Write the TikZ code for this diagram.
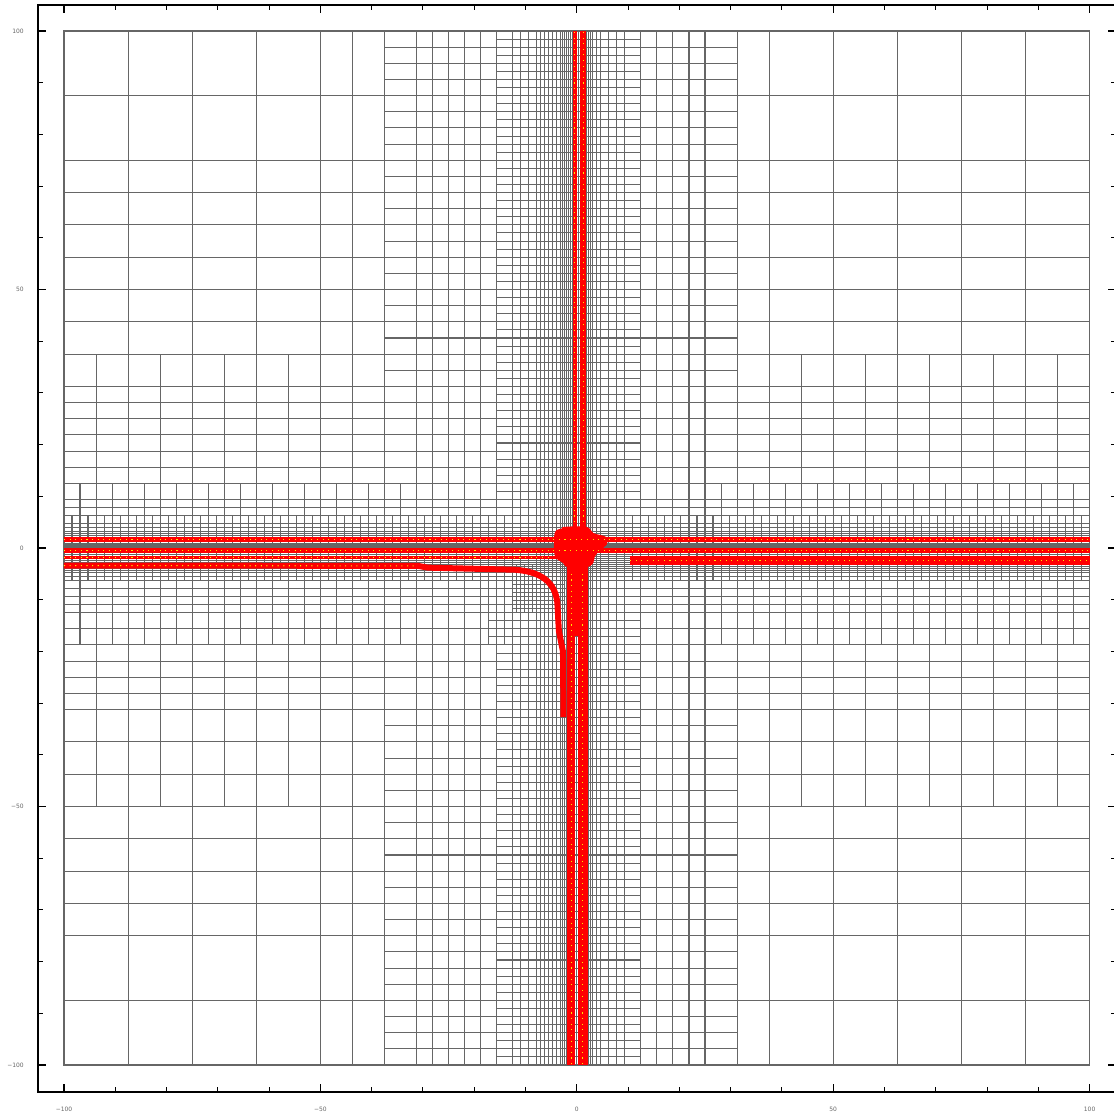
\documentclass[tikz,border=0pt]{standalone}
\usepackage{fontspec}
\setmainfont{DejaVu Sans}

\newdimen\meshdxc \newdimen\meshdxi \newdimen\meshdyc \newdimen\meshdyi
\newdimen\meshbx \newdimen\meshby
\newdimen\meshtx \newdimen\meshty \newdimen\meshtmp

% distance of [#1,#1+#2] to [#3,#4], into register #5
\newcommand\meshdist[5]{%
  #5=\dimexpr#3-#1-#2\relax
  \meshtmp=\dimexpr#1-#4\relax
  \ifdim\meshtmp>#5 #5=\meshtmp\fi
  \ifdim#5<0pt #5=0pt\relax\fi}

% one cell of the adaptive mesh: #1,#2 lower left corner, #3,#4 size (data units as pt)
\newcommand\meshcell[4]{%
  \begingroup
  \meshdist{#1}{#3}{-7pt}{4.5pt}\meshdxc
  \meshdist{#1}{#3}{-2.5pt}{3pt}\meshdxi
  \meshdist{#2}{#4}{-6pt}{4.4pt}\meshdyc
  \meshdist{#2}{#4}{-4.2pt}{2.6pt}\meshdyi
  \meshdist{#1}{#3}{-12pt}{-3pt}\meshbx
  \meshdist{#2}{#4}{-12pt}{-4pt}\meshby
  \ifdim\meshby>\meshbx \meshbx=\meshby\fi
  % wanted width, vertical band
  \ifdim\meshdxi=0pt \meshtx=0.4pt\relax
  \else\ifdim\meshdxc=0pt \meshtx=0.8pt\relax
  \else\ifdim\meshdxc<4pt \meshtx=1.6pt\relax
  \else\ifdim\meshdxc<18.5pt \meshtx=3.2pt\relax
  \else\ifdim\meshdxc<31pt \meshtx=6.3pt\relax
  \else \meshtx=12.5pt\relax\fi\fi\fi\fi\fi
  % wanted width, horizontal band
  \ifdim\meshdyc=0pt \meshtmp=1.6pt\relax
  \else\ifdim\meshdyc<8pt \meshtmp=3.2pt\relax
  \else\ifdim\meshdyc<33pt \meshtmp=6.3pt\relax
  \else \meshtmp=12.5pt\relax\fi\fi\fi
  \ifdim\meshtmp<\meshtx \meshtx=\meshtmp\fi
  % wanted height, vertical band
  \ifdim\meshdxc<6.3pt \meshty=1.6pt\relax
  \else\ifdim\meshdxc<25pt \meshty=3.2pt\relax
  \else \meshty=12.5pt\relax\fi\fi
  % wanted height, horizontal band
  \ifdim\meshdyi=0pt \meshtmp=0.4pt\relax
  \else\ifdim\meshdyc=0pt \meshtmp=0.8pt\relax
  \else\ifdim\meshdyc<4.5pt \meshtmp=1.6pt\relax
  \else\ifdim\meshdyc<25pt \meshtmp=3.2pt\relax
  \else\ifdim\meshdyc<68pt \meshtmp=6.3pt\relax
  \else \meshtmp=12.5pt\relax\fi\fi\fi\fi\fi
  \ifdim\meshtmp<\meshty \meshty=\meshtmp\fi
  % the bend
  \ifdim\meshbx=0pt \meshtmp=0.8pt\relax
  \else\ifdim\meshbx<5pt \meshtmp=1.6pt\relax
  \else\ifdim\meshbx<15pt \meshtmp=3.2pt\relax
  \else \meshtmp=12.5pt\relax\fi\fi\fi
  \ifdim\meshtmp<\meshtx \meshtx=\meshtmp\fi
  \ifdim\meshtmp<\meshty \meshty=\meshtmp\fi
  % split the longer side first
  \edef\meshhw{\the\dimexpr#3/2\relax}\edef\meshhh{\the\dimexpr#4/2\relax}%
  \edef\meshxm{\the\dimexpr#1+#3/2\relax}\edef\meshym{\the\dimexpr#2+#4/2\relax}%
  \edef\meshsplitx{\noexpand\meshcell{#1}{#2}{\meshhw}{#4}\noexpand\meshcell{\meshxm}{#2}{\meshhw}{#4}}%
  \edef\meshsplity{\noexpand\meshcell{#1}{#2}{#3}{\meshhh}\noexpand\meshcell{#1}{\meshym}{#3}{\meshhh}}%
  \ifdim#3>\meshtx
    \ifdim#4>\meshty
      \ifdim#4>#3 \let\meshnext\meshsplity \else \let\meshnext\meshsplitx \fi
    \else
      \let\meshnext\meshsplitx
    \fi
  \else
    \ifdim#4>\meshty
      \let\meshnext\meshsplity
    \else
      \edef\meshxe{\the\dimexpr#1+#3\relax}\edef\meshye{\the\dimexpr#2+#4\relax}%
      \def\meshnext{\pgfpathrectanglecorners{\pgfqpoint{#1}{#2}}{\pgfqpoint{\meshxe}{\meshye}}\pgfusepath{stroke}}%
    \fi
  \fi
  \meshnext
  \endgroup}

\tikzset{
  meshline/.style={line width=0.3pt, color=black!60},
  frameline/.style={line width=0.55pt, black},
  tickline/.style={line width=0.3pt, black},
  speck/.style={yellow!90!orange, line width=0.3pt, dash pattern=on 0.3pt off 1.3pt},
  ticklabel/.style={font=\fontsize{1.7}{2}\selectfont, text=black!60, inner sep=0pt},
}

\begin{document}
\begin{tikzpicture}
\useasboundingbox (0,0) rectangle (11.14,-11.16);
\fill[white] (0,0) rectangle (11.14,-11.16);

\begin{scope}[shift={(5.768cm,-5.48cm)}, x=1pt, y=1pt, xscale=1.4591, yscale=1.4710]
  % mesh
  \begin{scope}[meshline]
    \meshcell{-100pt}{-100pt}{200pt}{200pt}
  \end{scope}

  % horizontal red bands
  \fill[red] (-100,1.2) rectangle (0,2.1);
  \fill[red] (-100,-0.95) rectangle (0,-0.05);
  \fill[red] (-100,-2.2) rectangle (0,-1.55);
  \fill[red] (0,1.15) rectangle (100,2.1);
  \fill[red] (0,-1.0) rectangle (100,-0.05);
  \fill[red] (10.4,-3.3) rectangle (100,-1.6);
  % vertical red bands
  \fill[red] (-0.8,0) rectangle (0,100);
  \fill[red] (0.7,0) rectangle (1.8,100);
  \fill[red] (-1.9,0) rectangle (-0.35,-100);
  \fill[red] (0.3,0) rectangle (2.2,-100);
  \fill[red] (-1.9,0) rectangle (2.2,-17);
  % centre
  \fill[red] plot[smooth cycle, tension=0.6] coordinates {(-2.3,4.1) (1.9,4.1) (3.2,2.9) (5.8,2.1) (5.8,0.6) (4.5,-0.4) (3.5,-1.7) (3.2,-2.9) (1.9,-3.7) (-1.7,-3.7) (-2.7,-2.9) (-4.3,-1.4) (-4.3,2.9) (-2.9,3.8)};
  % bent band
  \draw[red, line width=1.7pt, line join=round] (-100,-3.4) -- (-31,-3.45) -- (-29,-3.8) -- (-12,-4.2)
    .. controls (-7,-4.6) and (-4.3,-6.5) .. (-3.8,-10.5) -- (-3.5,-16) -- (-2.7,-20) -- (-2.6,-32.7);

  % speckles
  \draw[speck] (-100,1.65) -- (100,1.65);
  \draw[speck] (-100,-0.5) -- (100,-0.5);
  \draw[speck] (-100,-1.9) -- (-5,-1.9);
  \draw[speck] (10.4,-2.5) -- (100,-2.5);
  \draw[speck] (-100,-3.4) -- (-31,-3.45);
  \draw[speck] (-0.4,5) -- (-0.4,100);
  \draw[speck] (1.25,5) -- (1.25,100);
  \draw[speck] (-1.1,-5) -- (-1.1,-100);
  \draw[speck] (1.2,-5) -- (1.2,-100);

  % frame and ticks
  \draw[frameline] (-105,-105.2) rectangle (105,105);
  \foreach \t in {-100,-90,...,100}{
    \pgfmathsetmacro\tl{mod(\t,50)==0 ? 1.5 : 0.9}
    \draw[tickline] (\t,-105.2) -- ++(0,\tl);
    \draw[tickline] (\t,105) -- ++(0,-\tl);
    \draw[tickline] (-105,\t) -- ++(\tl,0);
    \draw[tickline] (105,\t) -- ++(-\tl,0);
  }
  \foreach \t/\lab [count=\i] in {-100/−100, -50/−50, 0/0, 50/50, 100/100}{
    \node[ticklabel] (xlab\i) at (\t,-108.5) {\lab};
    \node[ticklabel, anchor=east] (ylab\i) at (-107.7,\t) {\lab};
  }
\end{scope}
\end{tikzpicture}
\end{document}
